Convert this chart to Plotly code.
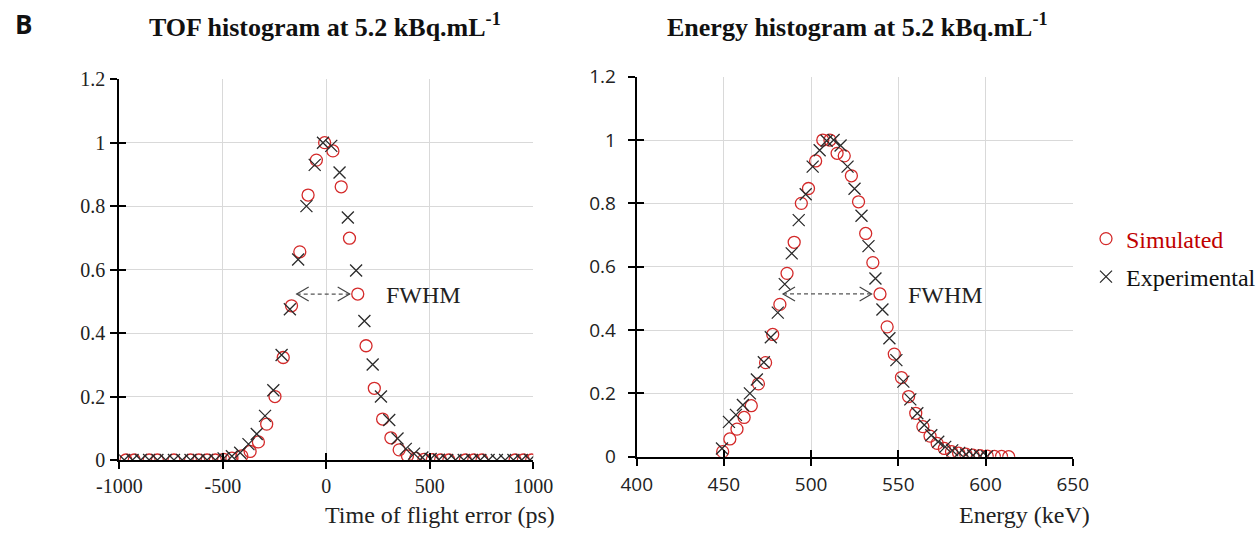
import plotly.graph_objects as go

# ---------------- data ----------------
tof_sim_x = [-968, -928, -856, -816, -736, -656, -616, -576, -536,
             -496, -456, -408, -368, -328, -288, -248, -208, -168, -128, -88, -48, -8,
             32, 72, 112, 152, 192, 232, 272, 312, 352, 392, 432, 472, 512,
             552, 592, 672, 712, 752, 912, 952, 992]
tof_sim_y = [0, 0, 0, 0, 0, 0, 0, 0, 0,
             0.002, 0.006, 0.013, 0.027, 0.057, 0.113, 0.2, 0.323, 0.486, 0.656, 0.835, 0.945, 1.0,
             0.974, 0.861, 0.699, 0.523, 0.36, 0.226, 0.129, 0.07, 0.032, 0.013, 0.005, 0.002, 0.001,
             0, 0, 0, 0, 0, 0, 0, 0]

tof_exp_x = [-976, -936, -896, -856, -816, -776, -736, -696, -656, -616, -576, -536,
             -496, -456, -416, -376, -336, -296, -256, -216, -176, -136, -96, -56, -16,
             24, 64, 104, 144, 184, 224, 264, 304, 344, 384, 424, 464, 504, 544,
             584, 624, 664, 704, 744, 784, 824, 864, 904, 944, 984]
tof_exp_y = [0, 0, 0, 0, 0, 0, 0, 0, 0, 0, 0, 0,
             0.005, 0.012, 0.023, 0.05, 0.082, 0.139, 0.22, 0.331, 0.475, 0.632, 0.80, 0.93, 1.0,
             0.99, 0.906, 0.764, 0.597, 0.438, 0.301, 0.2, 0.126, 0.068, 0.035, 0.02, 0.008, 0.003, 0.001,
             0, 0, 0, 0, 0, 0, 0, 0, 0, 0, 0]

en_sim_x = [449.3, 453.4, 457.5, 461.6, 465.7, 469.8, 473.9, 478.0, 482.1, 486.2,
            490.3, 494.4, 498.5, 502.6, 506.7, 510.8, 514.9, 519.0, 523.1, 527.2,
            531.3, 535.4, 539.5, 543.6, 547.7, 551.8, 555.9, 560.0, 564.1, 568.2,
            572.3, 576.4, 580.5, 584.6, 588.7, 592.8, 596.9, 601.0, 605.1, 609.2, 613.3]
en_sim_y = [0.016, 0.056, 0.087, 0.124, 0.161, 0.23, 0.297, 0.386, 0.481, 0.579,
            0.677, 0.80, 0.847, 0.934, 1.0, 1.0, 0.958, 0.95, 0.887, 0.805,
            0.705, 0.613, 0.514, 0.41, 0.324, 0.25, 0.19, 0.137, 0.095, 0.065,
            0.042, 0.026, 0.016, 0.011, 0.008, 0.005, 0.003, 0.002, 0.001, 0.001, 0.0]

en_exp_x = [448.9, 452.9, 456.9, 460.9, 464.9, 468.9, 472.9, 476.9, 480.9, 484.9,
            488.9, 492.9, 496.9, 500.9, 504.9, 508.9, 512.9, 516.9, 520.9, 524.9,
            528.9, 532.9, 536.9, 540.9, 544.9, 548.9, 552.9, 556.9, 560.9, 564.9,
            568.9, 572.9, 576.9, 580.9, 584.9, 588.9, 592.9, 596.9, 600.9]
en_exp_y = [0.026, 0.11, 0.132, 0.163, 0.2, 0.244, 0.298, 0.377, 0.455, 0.545,
            0.642, 0.747, 0.829, 0.916, 0.968, 0.998, 1.0, 0.983, 0.916, 0.846,
            0.761, 0.665, 0.563, 0.465, 0.374, 0.305, 0.237, 0.181, 0.137, 0.1,
            0.068, 0.047, 0.031, 0.02, 0.012, 0.007, 0.004, 0.002, 0.001]

tof_ticks = [-1000, -500, 0, 500, 1000]
tof_ticktext = ["-1000", "-500", "0", "500", "1000"]
en_ticks = [400, 450, 500, 550, 600, 650]
y_ticks = [0, 0.2, 0.4, 0.6, 0.8, 1.0, 1.2]
y_ticktext = ["0", "0.2", "0.4", "0.6", "0.8", "1", "1.2"]

fwhm_tof = (-143, 113, 0.523)
fwhm_en = (483.9, 534.7, 0.514)
fwhm_tof_label = (278, 0.52)
fwhm_en_label = (554.4, 0.511)

series_names = ["Simulated", "Experimental"]
title_left = "<b>TOF histogram at 5.2 kBq.mL<sup>-1</sup></b>"
title_right = "<b>Energy histogram at 5.2 kBq.mL<sup>-1</sup></b>"
xlabel_left = "Time of flight error (ps)"
xlabel_right = "Energy (keV)"

# ---------------- styling ----------------
W, H = 1259, 535
def px(x):
    return x / W
def py(y):
    return 1 - y / H

RED = "#d42a2a"
DARK = "#2b2b2b"
SERIF = "Liberation Serif"
SANS = "Open Sans"
GRID = "#d9d9d9"

sim_marker = dict(symbol="circle-open", size=12, color=RED, line=dict(color=RED, width=1.3))
exp_marker = dict(symbol="x-thin-open", size=12, color=DARK, line=dict(color=DARK, width=1.3))

fig = go.Figure()
fig.add_trace(go.Scatter(x=tof_sim_x, y=tof_sim_y, mode="markers", marker=sim_marker,
                         name=series_names[0], legend="legend", xaxis="x", yaxis="y"))
fig.add_trace(go.Scatter(x=tof_exp_x, y=tof_exp_y, mode="markers", marker=exp_marker,
                         name=series_names[1], legend="legend2", xaxis="x", yaxis="y"))
fig.add_trace(go.Scatter(x=en_sim_x, y=en_sim_y, mode="markers", marker=sim_marker,
                         name=series_names[0], showlegend=False, xaxis="x2", yaxis="y2"))
fig.add_trace(go.Scatter(x=en_exp_x, y=en_exp_y, mode="markers", marker=exp_marker,
                         name=series_names[1], showlegend=False, xaxis="x2", yaxis="y2"))

# dummy traces on overlay axes (for crossing tick marks)
for xa, ya in [("x3", "y"), ("x", "y3"), ("x4", "y2"), ("x2", "y4")]:
    fig.add_trace(go.Scatter(x=[None], y=[None], xaxis=xa, yaxis=ya, showlegend=False,
                             hoverinfo="skip", mode="markers"))

left_dom_x = [px(119.3), px(533.3)]
left_dom_y = [py(460), py(79.2)]
right_dom_x = [px(636.7), px(1072.7)]
right_dom_y = [py(456.7), py(76.7)]

common_main = dict(showline=True, linecolor="black", linewidth=2, showgrid=True,
                   gridcolor=GRID, gridwidth=1, zeroline=False, ticks="outside",
                   ticklen=7, tickwidth=1.5, tickcolor="black", automargin=False)
common_over = dict(showline=False, showgrid=False, zeroline=False, ticks="inside",
                   ticklen=7, tickwidth=1.5, tickcolor="black", showticklabels=False)

fig.update_layout(
    template="none",
    width=W, height=H,
    margin=dict(l=0, r=0, t=0, b=0, autoexpand=False),
    paper_bgcolor="white", plot_bgcolor="white",
    xaxis=dict(domain=left_dom_x, anchor="y", range=[-1000, 1000], tickmode="array",
               tickvals=tof_ticks, ticktext=tof_ticktext,
               tickfont=dict(family=SERIF, size=20, color="#222"), **common_main),
    yaxis=dict(domain=left_dom_y, anchor="x", range=[0, 1.2], tickmode="array",
               tickvals=y_ticks, ticktext=y_ticktext, ticklabelstandoff=1,
               tickfont=dict(family=SERIF, size=20, color="#222"), **common_main),
    xaxis2=dict(domain=right_dom_x, anchor="y2", range=[400, 650], tickmode="array",
                tickvals=en_ticks, ticklabelstandoff=2,
                tickfont=dict(family=SANS, size=19, color="#222"), **common_main),
    yaxis2=dict(domain=right_dom_y, anchor="x2", range=[0, 1.2], tickmode="array",
                tickvals=y_ticks, ticktext=y_ticktext, ticklabelstandoff=8,
                tickfont=dict(family=SANS, size=19, color="#222"), **common_main),
    xaxis3=dict(overlaying="x", anchor="y", range=[-1000, 1000], tickmode="array",
                tickvals=tof_ticks, **common_over),
    yaxis3=dict(overlaying="y", anchor="x", range=[0, 1.2], tickmode="array",
                tickvals=y_ticks, **common_over),
    xaxis4=dict(overlaying="x2", anchor="y2", range=[400, 650], tickmode="array",
                tickvals=en_ticks, **common_over),
    yaxis4=dict(overlaying="y2", anchor="x2", range=[0, 1.2], tickmode="array",
                tickvals=y_ticks, **common_over),
    legend=dict(x=px(1086), y=py(239), xanchor="left", yanchor="middle",
                font=dict(family=SERIF, size=24, color="#c00000"), bgcolor="rgba(0,0,0,0)"),
    legend2=dict(x=px(1086), y=py(277), xanchor="left", yanchor="middle",
                 font=dict(family=SERIF, size=24, color="#111"), bgcolor="rgba(0,0,0,0)"),
    showlegend=True,
)

# FWHM arrows
shapes = []
for (xa0, xa1, yv), xr, yr in [(fwhm_tof, "x", "y"), (fwhm_en, "x2", "y2")]:
    shapes.append(dict(type="line", xref=xr, yref=yr, x0=xa0, x1=xa1, y0=yv, y1=yv,
                       line=dict(color="#555", width=1.2, dash="4px,3px")))
    shapes.append(dict(type="path", xref=xr, yref=yr, xsizemode="pixel", ysizemode="pixel",
                       xanchor=xa0, yanchor=yv, path="M 12,7 L 0,0 L 12,-7",
                       line=dict(color="#444", width=1.2)))
    shapes.append(dict(type="path", xref=xr, yref=yr, xsizemode="pixel", ysizemode="pixel",
                       xanchor=xa1, yanchor=yv, path="M -12,7 L 0,0 L -12,-7",
                       line=dict(color="#444", width=1.2)))
fig.update_layout(shapes=shapes)

ann = []
ann.append(dict(text="FWHM", x=fwhm_tof_label[0], y=fwhm_tof_label[1], xref="x", yref="y",
                xanchor="left", yanchor="middle", showarrow=False,
                font=dict(family=SERIF, size=24, color="#222")))
ann.append(dict(text="FWHM", x=fwhm_en_label[0], y=fwhm_en_label[1], xref="x2", yref="y2",
                xanchor="left", yanchor="middle", showarrow=False,
                font=dict(family=SERIF, size=24, color="#222")))
ann.append(dict(text=title_left, x=px(324.5), y=py(25), xref="paper", yref="paper",
                xanchor="center", yanchor="middle", showarrow=False,
                font=dict(family=SERIF, size=26, color="#111")))
ann.append(dict(text=title_right, x=px(857), y=py(25), xref="paper", yref="paper",
                xanchor="center", yanchor="middle", showarrow=False,
                font=dict(family=SERIF, size=26, color="#111")))
ann.append(dict(text=xlabel_left, x=px(323), y=py(515), xref="paper", yref="paper",
                xanchor="left", yanchor="middle", showarrow=False,
                font=dict(family=SERIF, size=24, color="#222")))
ann.append(dict(text=xlabel_right, x=px(957), y=py(515), xref="paper", yref="paper",
                xanchor="left", yanchor="middle", showarrow=False,
                font=dict(family=SERIF, size=24, color="#222")))
ann.append(dict(text="<b>B</b>", x=px(23), y=py(24), xref="paper", yref="paper",
                xanchor="center", yanchor="middle", showarrow=False,
                font=dict(family=SANS, size=26, color="#111")))
fig.update_layout(annotations=ann)

fig.write_html("out.html", config={"displayModeBar": False},
               post_script="document.body.style.margin='0';document.body.style.overflow='hidden';")
